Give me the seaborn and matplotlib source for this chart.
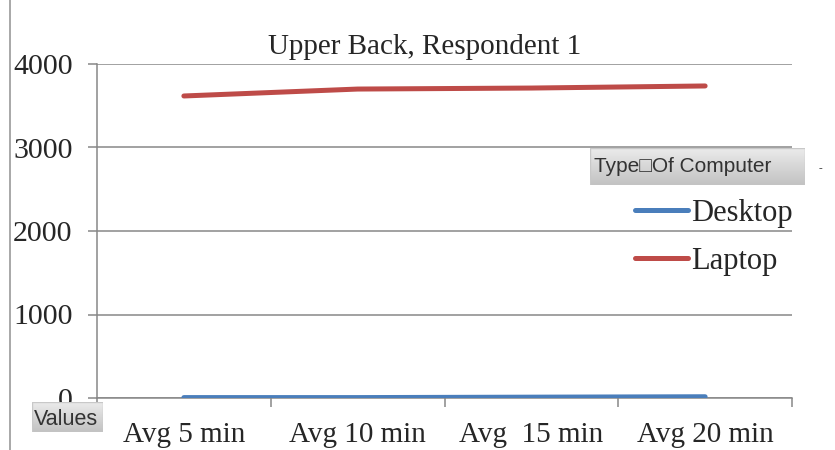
import numpy as np
import pandas as pd
import seaborn as sns
import matplotlib.pyplot as plt
from matplotlib.lines import Line2D
from matplotlib.patches import Rectangle

categories = ["Avg 5 min", "Avg 10 min", "Avg  15 min", "Avg 20 min"]
desktop = [5, 5, 10, 15]
laptop = [3617, 3700, 3712, 3737]
series_names = ["Desktop", "Laptop"]
colors = {"Desktop": "#4A7EBB", "Laptop": "#BE4B48"}
yticks = [0, 1000, 2000, 3000, 4000]

df = pd.DataFrame({
    "Time": categories * 2,
    "x": list(range(len(categories))) * 2,
    "Value": desktop + laptop,
    "Type Of Computer": ["Desktop"] * 4 + ["Laptop"] * 4,
})

sns.set_theme(style="white")
plt.rcParams["font.family"] = ["Liberation Serif", "DejaVu Serif"]

W, H = 835, 450
fig = plt.figure(figsize=(W / 100, H / 100), dpi=100)
ax = fig.add_axes([97 / W, 1 - 398 / H, (792 - 97) / W, (398 - 64) / H])

grey = "#878787"
sns.lineplot(data=df, x="x", y="Value", hue="Type Of Computer", palette=colors,
             linewidth=3.6, ax=ax, legend=False, solid_capstyle="round", zorder=3)

ax.set_xlim(-0.5, 3.5)
ax.set_ylim(0, 4000)
ax.set_yticks(yticks)
ax.set_yticklabels([str(v) for v in yticks], fontsize=21.5)
ax.set_xticks(range(len(categories)))
ax.set_xticklabels(categories, fontsize=21)
ax.set_xticks([-0.5, 0.5, 1.5, 2.5, 3.5], minor=True)
ax.tick_params(axis="x", which="major", length=0, pad=17)
ax.tick_params(axis="x", which="minor", length=6.5, width=1.1, color=grey, bottom=True)
ax.tick_params(axis="y", length=6.5, width=1.1, color=grey, pad=11, left=True)
ax.set_xlabel("")
ax.set_ylabel("")
ax.yaxis.grid(True, color=grey, linewidth=1.1)
ax.set_axisbelow(True)
for s in ["top", "right"]:
    ax.spines[s].set_visible(False)
for s in ["left", "bottom"]:
    ax.spines[s].set_color(grey)
    ax.spines[s].set_linewidth(1.1)

fig.text(425 / W, 1 - 47 / H, "Upper Back, Respondent 1", ha="center", va="center",
         fontsize=21)

# left border of the chart area
fig.add_artist(Line2D([10 / W, 10 / W], [0, 1], color="#9a9a9a", linewidth=1.2,
                      transform=fig.transFigure))

def button(x0, y0, x1, y1, label, fs, ty=0.5):
    bax = fig.add_axes([x0 / W, 1 - y1 / H, (x1 - x0) / W, (y1 - y0) / H], zorder=5)
    grad = np.linspace(0.92, 0.76, 64).reshape(-1, 1)
    bax.imshow(grad, cmap="gray", vmin=0, vmax=1, aspect="auto",
               extent=[0, 1, 0, 1], origin="upper")
    bax.set_xlim(0, 1)
    bax.set_ylim(0, 1)
    bax.set_axis_off()
    bax.add_patch(Rectangle((0, 0), 1, 1, fill=False, edgecolor="#c8c8c8",
                            linewidth=1, transform=bax.transAxes))
    bax.text(0.02, ty, label, ha="left", va="center", fontsize=fs, color="#333333",
             family=["Liberation Sans", "DejaVu Sans"])
    return bax

button(32, 402, 103, 432, "Values", 15.5, ty=0.42)
button(590, 148, 805, 185, "Type\u25a1Of Computer", 15)
# white drop-down part of the field button
dax = fig.add_axes([805 / W, 1 - 185 / H, 30 / W, 37 / H], zorder=5)
dax.set_axis_off()
dax.add_patch(Rectangle((0, 0), 1, 1, facecolor="white", edgecolor="none",
                        transform=dax.transAxes))
dax.text(0.5, 0.45, "-", ha="center", va="center", fontsize=8, color="#333333")

handles = [Line2D([0], [0], color=colors[n], linewidth=3.6, solid_capstyle="round")
           for n in series_names]
fig.legend(handles, series_names, loc="upper left",
           bbox_to_anchor=(635 / W, 1 - 199 / H), frameon=False, fontsize=22,
           handlelength=1.75, handletextpad=0.1, labelspacing=0.62,
           borderaxespad=0, borderpad=0)

fig.savefig("out.png", dpi=100)
